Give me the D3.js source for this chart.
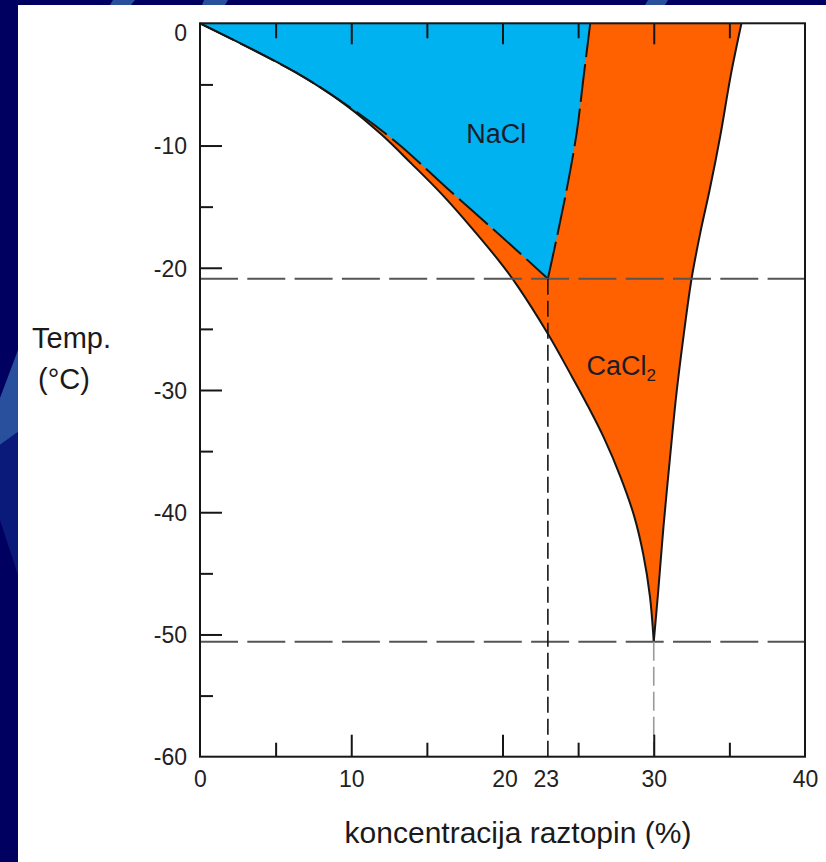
<!DOCTYPE html>
<html>
<head>
<meta charset="utf-8">
<script src="https://cdn.jsdelivr.net/npm/d3@7"></script>
<style>
  body { margin: 0; background: #000060; }
  svg { display: block; }
  text { font-family: "Liberation Sans", Arial, sans-serif; }
</style>
</head>
<body>
<svg width="826" height="862"></svg>
<script>

// ---- data (koncentracija %, temperatura °C) ----
const xTickLabels = [0, 10, 20, 23, 30, 40];
const xMajorTicks = [10, 20, 30];
const xMinorTicks = [5, 15, 25, 35];
const yTickLabels = [0, -10, -20, -30, -40, -50, -60];
const yMajorTicks = [-10, -20, -30, -40, -50];
const yMinorTicks = [-5, -15, -25, -35, -45, -55];

// evtektični točki
const eutectics = [[23, -20.9], [30, -50.6]];

// NaCl
const naclIce = [[0, 0], [6.3, -4.0], [9.6, -6.6], [12.9, -9.65], [16.3, -13.45],
                 [20.7, -18.3], [23, -20.9]];
const naclSolubility = [[23, -20.9], [24.1, -14.5], [24.9, -9.0], [25.35, -4.5], [25.8, 0]];

// CaCl2
const cacl2Ice = [[0, 0], [6.3, -4.0], [9.6, -6.65], [12, -9.1], [14, -11.5],
                  [16, -14.0], [18, -16.8], [20, -19.8], [21, -21.5], [23, -25.4], [24.5, -28.7],
                  [25.6, -31.2], [26.7, -33.9], [27.8, -37.1], [28.7, -40.3], [29.3, -43.4],
                  [29.75, -46.9], [30, -50.6]];
const cacl2Solubility = [[30, -50.6], [30.3, -46.4], [30.65, -41.1], [31.07, -35.6], [31.5, -30.3],
                         [32.0, -25.3], [32.5, -20.9], [33.1, -17.0], [33.7, -13.6],
                         [34.4, -9.2], [35.1, -4.2], [35.8, 0]];

const regionNames = ["NaCl", "CaCl"];

const vis = {

    refs : {
        svg : "svg"
    },

    sels : {
        svg : null,
        plot : null
    },

    params : {
        colors : {
            navy : "#000060",
            stripe : "#2f5ea8",
            nacl : "#00b2ef",
            cacl2 : "#ff6100",
            ink : "#161616",
            guide : "#555555",
            guide_light : "#9a9a9a"
        },
        frame : { left : 200, right : 805, top : 23.3, bottom : 756.7 },
        font : { ticks : 23, titles : 30, regions : 27 },
        // položaji napisov v podatkovnih koordinatah
        region_pos : [[17.6, -9.8], [25.55, -28.8]]
    },

    scales : { x : null, y : null },

    utils : {

        line : function() {
            return d3.line()
              .x(d => vis.scales.x(d[0]))
              .y(d => vis.scales.y(d[1]))
              .curve(d3.curveCatmullRom.alpha(0.5));
        },

        joined_path : function(a, b) {
            const line = vis.utils.line();
            return line(a) + line(b).replace(/^M/, "L") + "Z";
        }

    },

    render : {

        background : function() {

            const svg = vis.sels.svg;
            const c = vis.params.colors;

            svg.append("rect").attr("width", 826).attr("height", 862).attr("fill", c.navy);

            // okrasni trakovi ozadja
            const stripes = [
                [[113, 0], [135, 0], [131, 5], [110, 5]],
                [[204, 0], [228, 0], [225, 5], [202, 5]],
                [[648, 0], [668, 0], [665, 5], [645, 5]],
                [[18, 350], [18, 432], [0, 445], [0, 398]]
            ];
            svg.selectAll("polygon.stripe")
              .data(stripes)
              .join("polygon")
              .classed("stripe", true)
              .attr("points", d => d.map(p => p.join(",")).join(" "))
              .attr("fill", c.stripe)
              .attr("opacity", 0.85);

            svg.append("polygon")
              .attr("points", "0,445 18,432 18,575 0,520")
              .attr("fill", "#0a1a7a");

            svg.append("rect")
              .attr("x", 18).attr("y", 5)
              .attr("width", 808).attr("height", 857)
              .attr("fill", "#ffffff");

        },

        regions : function() {

            const c = vis.params.colors;
            const plot = vis.sels.plot;
            const line = vis.utils.line();

            plot.append("path")
              .attr("d", vis.utils.joined_path(cacl2Ice, cacl2Solubility))
              .attr("fill", c.cacl2);

            plot.append("path")
              .attr("d", vis.utils.joined_path(naclIce, naclSolubility))
              .attr("fill", c.nacl);

            [cacl2Ice, cacl2Solubility].forEach(d => {
                plot.append("path")
                  .attr("d", line(d))
                  .attr("fill", "none")
                  .attr("stroke", c.ink)
                  .attr("stroke-width", 2);
            });

            [naclIce, naclSolubility].forEach(d => {
                plot.append("path")
                  .attr("d", line(d))
                  .attr("fill", "none")
                  .attr("stroke", c.ink)
                  .attr("stroke-width", 2)
                  .attr("stroke-dasharray", "38,7");
            });

        },

        guides : function() {

            const c = vis.params.colors;
            const x = vis.scales.x, y = vis.scales.y;
            const plot = vis.sels.plot;

            // vodoravni črti skozi evtektični točki
            plot.selectAll("line.hguide")
              .data(eutectics)
              .join("line")
              .classed("hguide", true)
              .attr("x1", x(0)).attr("x2", x(40))
              .attr("y1", d => y(d[1])).attr("y2", d => y(d[1]))
              .attr("stroke", c.guide)
              .attr("stroke-width", 2)
              .attr("stroke-dasharray", "38,9.3");

            // navpični črti do osi x
            plot.selectAll("line.vguide")
              .data(eutectics)
              .join("line")
              .classed("vguide", true)
              .attr("x1", d => x(d[0])).attr("x2", d => x(d[0]))
              .attr("y1", d => y(d[1])).attr("y2", y(-60))
              .attr("stroke", (d, i) => i === 0 ? c.ink : c.guide_light)
              .attr("stroke-width", 1.6)
              .attr("stroke-dasharray", (d, i) => i === 0 ? "16,6" : "19,6");

        },

        axes : function() {

            const c = vis.params.colors;
            const f = vis.params.frame;
            const x = vis.scales.x, y = vis.scales.y;
            const plot = vis.sels.plot;

            const tick_axis = function(gen, values, size, transform) {
                const g = plot.append("g")
                  .attr("transform", transform)
                  .call(gen.tickValues(values).tickSize(size).tickFormat(""));
                g.select(".domain").remove();
                g.selectAll("line").attr("stroke", c.ink).attr("stroke-width", 2);
                return g;
            };

            tick_axis(d3.axisBottom(x), xMajorTicks, -22, `translate(0,${f.bottom})`);
            tick_axis(d3.axisBottom(x), xMinorTicks, -14, `translate(0,${f.bottom})`);
            tick_axis(d3.axisTop(x), xMajorTicks, -21, `translate(0,${f.top})`);
            tick_axis(d3.axisTop(x), xMinorTicks, -15, `translate(0,${f.top})`);
            tick_axis(d3.axisLeft(y), yMajorTicks, -22, `translate(${f.left},0)`);
            tick_axis(d3.axisLeft(y), yMinorTicks, -13, `translate(${f.left},0)`);

            // okvir
            plot.append("rect")
              .attr("x", f.left).attr("y", f.top)
              .attr("width", f.right - f.left).attr("height", f.bottom - f.top)
              .attr("fill", "none")
              .attr("stroke", c.ink)
              .attr("stroke-width", 2);

            // oznake
            const gx = plot.append("g")
              .attr("transform", `translate(0,${f.bottom})`)
              .call(d3.axisBottom(x).tickValues(xTickLabels).tickSize(0).tickPadding(13.7)
                .tickFormat(d => String(d)));
            gx.select(".domain").remove();
            gx.selectAll("text")
              .attr("font-size", vis.params.font.ticks)
              .attr("font-family", "Liberation Sans, Arial, sans-serif")
              .attr("fill", "#222")
              .attr("dx", d => d === 23 ? -2 : (d === 20 ? 2 : 0));

            const gy = plot.append("g")
              .attr("transform", `translate(${f.left},0)`)
              .call(d3.axisLeft(y).tickValues(yTickLabels).tickSize(0).tickPadding(13)
                .tickFormat(d => String(d)));
            gy.select(".domain").remove();
            gy.selectAll("text")
              .attr("font-size", vis.params.font.ticks)
              .attr("font-family", "Liberation Sans, Arial, sans-serif")
              .attr("fill", "#222")
              .attr("dy", d => d === 0 ? "0.75em" : "0.36em");

        },

        labels : function() {

            const svg = vis.sels.svg;
            const p = vis.params;
            const x = vis.scales.x, y = vis.scales.y;

            svg.append("text")
              .attr("x", 518).attr("y", 843)
              .attr("text-anchor", "middle")
              .attr("font-size", p.font.titles)
              .attr("fill", "#1a1a1a")
              .text("koncentracija raztopin (%)");

            svg.append("text")
              .attr("x", 32).attr("y", 348)
              .attr("font-size", p.font.titles - 1)
              .attr("fill", "#1a1a1a")
              .text("Temp.");

            svg.append("text")
              .attr("x", 38).attr("y", 389)
              .attr("font-size", p.font.titles - 1)
              .attr("fill", "#1a1a1a")
              .text("(°C)");

            const names = svg.selectAll("text.region")
              .data(regionNames)
              .join("text")
              .classed("region", true)
              .attr("x", (d, i) => x(p.region_pos[i][0]))
              .attr("y", (d, i) => y(p.region_pos[i][1]))
              .attr("font-size", p.font.regions)
              .attr("fill", "#1b1b2b")
              .text(d => d);

            // indeks pri CaCl2
            names.filter((d, i) => i === 1)
              .append("tspan")
              .attr("font-size", 17)
              .attr("dy", 6)
              .text("2");

        }

    },

    control : {

        init : function() {

            vis.sels.svg = d3.select(vis.refs.svg);

            const f = vis.params.frame;
            vis.scales.x = d3.scaleLinear().domain([0, 40]).range([f.left, f.right]);
            vis.scales.y = d3.scaleLinear().domain([0, -60]).range([f.top, f.bottom]);

            vis.render.background();
            vis.sels.plot = vis.sels.svg.append("g").classed("plot", true);
            vis.render.regions();
            vis.render.guides();
            vis.render.axes();
            vis.render.labels();

        }

    }

}

vis.control.init();
</script>
</body>
</html>
